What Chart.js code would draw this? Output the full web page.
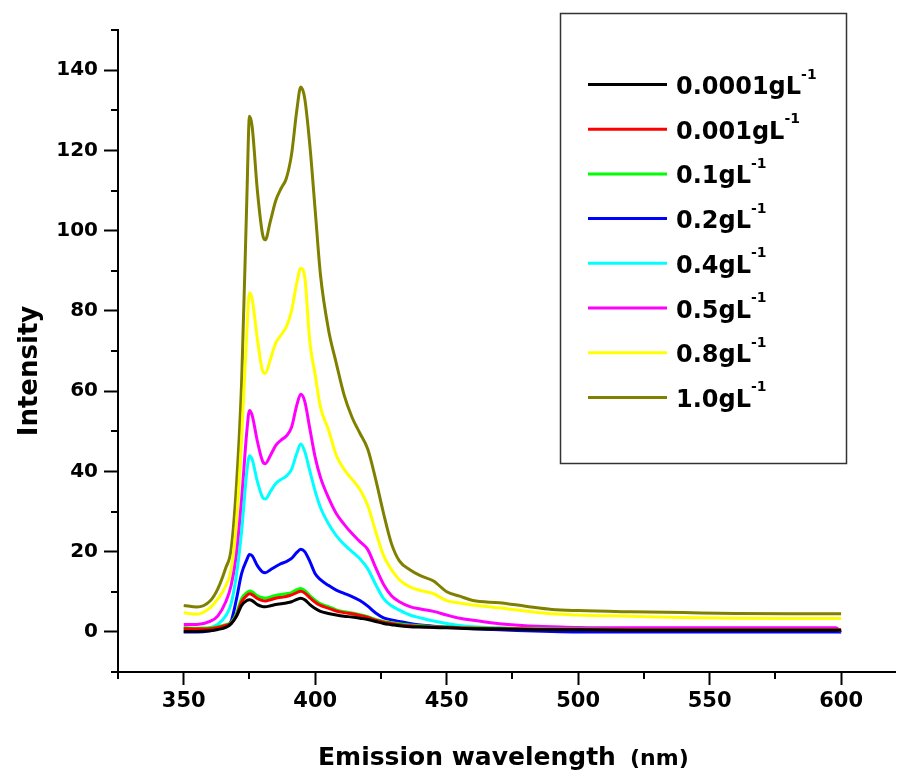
<!DOCTYPE html>
<html>
<head>
<meta charset="utf-8">
<script src="https://cdn.jsdelivr.net/npm/chart.js@4.4.0/dist/chart.umd.min.js"></script>
<style>
    html, body { margin: 0; padding: 0; background: #fff; }
    #wrap { width: 897px; height: 771px; }
</style>
</head>
<body>
<div id="wrap"><canvas id="spektrum" width="897" height="771"></canvas></div>
<script>
// Panjang gelombang (nm), dipakai bersama oleh semua kurva
const wavelength = [350, 355, 360, 363, 366, 368, 370, 372, 374, 375, 376, 378, 380, 381, 383, 385, 387, 389, 391, 393, 394.5, 396, 398, 400, 402, 405, 408, 411, 414, 417, 420, 423, 426, 429, 432, 436, 440, 445, 450, 455, 460, 470, 480, 490, 500, 520, 540, 560, 580, 598, 600];

// Intensitas tiap konsentrasi
const c00001 = [0.1, 0.1, 0.3, 0.6, 1.1, 2, 3.8, 6.6, 7.8, 8, 7.8, 6.8, 6.3, 6.25, 6.5, 6.8, 7, 7.2, 7.5, 8.1, 8.4, 8, 6.8, 5.8, 5.1, 4.6, 4.2, 3.9, 3.7, 3.4, 3.1, 2.6, 2.1, 1.8, 1.5, 1.3, 1.2, 1.1, 1, 0.9, 0.8, 0.7, 0.6, 0.5, 0.5, 0.4, 0.4, 0.4, 0.4, 0.4, 0.4];
const c0001 = [0.8, 0.7, 0.8, 1.1, 1.6, 2.1, 4, 7.5, 9.1, 9.5, 9.3, 8.3, 7.8, 7.7, 8, 8.4, 8.6, 8.8, 9.2, 9.8, 10.1, 9.7, 8.5, 7.4, 6.6, 5.9, 5.2, 4.8, 4.5, 4.1, 3.6, 2.9, 2.4, 2.1, 1.8, 1.5, 1.3, 1.2, 1.1, 1, 0.9, 0.8, 0.7, 0.6, 0.6, 0.5, 0.5, 0.5, 0.5, 0.5, 0.5];
const c01 = [1, 0.9, 1, 1.3, 1.8, 2.3, 4.5, 8.3, 9.8, 10.2, 10, 9, 8.5, 8.4, 8.7, 9.1, 9.3, 9.5, 9.8, 10.5, 10.8, 10.3, 9, 7.9, 7, 6.3, 5.5, 5, 4.7, 4.3, 3.8, 3.1, 2.6, 2.3, 2, 1.7, 1.5, 1.3, 1.2, 1.1, 1, 0.9, 0.8, 0.7, 0.7, 0.6, 0.6, 0.6, 0.6, 0.6, 0.2];
const c02 = [0, 0, 0.3, 0.8, 1.6, 2.6, 8, 14.5, 18, 19.3, 19, 16.5, 14.9, 14.75, 15.5, 16.3, 17, 17.5, 18.3, 19.8, 20.6, 20, 17.5, 14.5, 13, 11.6, 10.4, 9.6, 8.8, 7.8, 6.4, 4.7, 3.5, 3, 2.6, 2.1, 1.7, 1.4, 1.2, 1, 0.8, 0.5, 0.3, 0.1, 0, 0, 0, 0, 0, 0, 0];
const c04 = [1, 0.6, 1, 1.9, 4, 7, 14, 25, 40, 43.9, 43, 37.5, 33.5, 33.1, 35, 37, 38, 38.8, 40.5, 44.5, 46.8, 45, 40, 35, 31, 27, 24, 21.8, 20, 18.2, 15.7, 11.8, 8.3, 6.5, 5.4, 4.2, 3.5, 2.7, 2.1, 1.6, 1.3, 1, 0.8, 0.6, 0.5, 0.4, 0.35, 0.35, 0.35, 0.35, 0.3];
const c05 = [1.85, 1.85, 2.6, 4, 7.5, 11.5, 19, 33, 50, 55.2, 54, 47.5, 42.5, 41.9, 44, 46.5, 47.8, 48.8, 51, 56.5, 59.2, 57.5, 50.5, 43.5, 38.5, 33.5, 29.5, 26.8, 24.5, 22.5, 20.5, 16, 11.8, 9, 7.5, 6.3, 5.7, 5.1, 4.2, 3.4, 2.9, 2, 1.5, 1.3, 1.1, 1, 1, 1, 1, 1, -0.2];
const c08 = [4.75, 4.4, 6, 8.2, 11.5, 15.5, 27, 48, 75, 84.5, 83, 73, 65, 64.4, 68, 72, 74, 76, 80, 87, 90.6, 88.5, 72, 64, 56, 50.5, 44, 40.5, 38, 35.5, 31.5, 25, 19, 15.5, 13, 11.2, 10.3, 9.5, 7.8, 7.2, 6.7, 6, 5.2, 4.5, 4.2, 3.9, 3.6, 3.4, 3.35, 3.35, 3.35];
const c10 = [6.6, 6.2, 7.7, 10.8, 16, 20.5, 36, 62, 108, 128.5, 126, 110, 99, 97.7, 102.5, 107.5, 110.5, 113, 119, 130, 135.8, 133, 121, 105, 89, 75.5, 67, 59, 53.5, 49.5, 45.5, 38, 29.5, 22, 17.7, 15.5, 14, 12.7, 10, 8.9, 7.8, 7.25, 6.4, 5.6, 5.3, 5, 4.8, 4.6, 4.5, 4.5, 4.5];

const concLabels = ['0.0001', '0.001', '0.1', '0.2', '0.4', '0.5', '0.8', '1.0'];
const seriesValues = [c00001, c0001, c01, c02, c04, c05, c08, c10];
const lineColors = ['#000000', '#ff0000', '#00ff00', '#0000ff', '#00ffff', '#ff00ff', '#ffff00', '#808000'];

// Label sumbu
const xTicks = [350, 400, 450, 500, 550, 600];
const xMinor = [325, 375, 425, 475, 525, 575];
const yTicks = [0, 20, 40, 60, 80, 100, 120, 140];
const yMinor = [-10, 10, 30, 50, 70, 90, 110, 130, 150];

const FONT = 'DejaVu Sans';

// Plugin: tick kecil, judul sumbu dan kotak legenda
const hiasanGrafik = {
    id: 'hiasanGrafik',
    afterDraw(chart) {
        const ctx = chart.ctx;
        const area = chart.chartArea;
        const sx = chart.scales.x;
        const sy = chart.scales.y;

        ctx.save();
        ctx.strokeStyle = '#000';
        ctx.lineWidth = 2;
        yMinor.forEach(v => {
            const py = Math.round(sy.getPixelForValue(v));
            ctx.beginPath();
            ctx.moveTo(area.left - 7, py);
            ctx.lineTo(area.left, py);
            ctx.stroke();
        });
        xMinor.forEach(v => {
            const px = Math.round(sx.getPixelForValue(v));
            ctx.beginPath();
            ctx.moveTo(px, area.bottom);
            ctx.lineTo(px, area.bottom + 7);
            ctx.stroke();
        });

        // Judul sumbu X
        ctx.fillStyle = '#000';
        ctx.textBaseline = 'alphabetic';
        ctx.textAlign = 'left';
        ctx.font = 'bold 25px ' + FONT;
        ctx.fillText('Emission wavelength', 318, 765);
        ctx.font = 'bold 22px ' + FONT;
        ctx.fillText('(nm)', 630, 765);

        // Judul sumbu Y
        ctx.save();
        ctx.translate(37, 371);
        ctx.rotate(-Math.PI / 2);
        ctx.textAlign = 'center';
        ctx.font = 'bold 26px ' + FONT;
        ctx.fillText('Intensity', 0, 0);
        ctx.restore();

        // Kotak legenda
        ctx.strokeStyle = '#333';
        ctx.lineWidth = 1.5;
        ctx.strokeRect(560.5, 13.5, 286, 450);
        chart.data.datasets.forEach((ds, i) => {
            const ly = 84.5 + i * 44.7;
            ctx.strokeStyle = ds.borderColor;
            ctx.lineWidth = 3;
            ctx.beginPath();
            ctx.moveTo(588, ly);
            ctx.lineTo(667, ly);
            ctx.stroke();
            const teks = concLabels[i] + 'gL';
            ctx.fillStyle = '#000';
            ctx.font = 'bold 24px ' + FONT;
            ctx.fillText(teks, 676, ly + 9.5);
            const lebar = ctx.measureText(teks).width;
            ctx.font = 'bold 14px ' + FONT;
            ctx.fillText('-1', 676 + lebar, ly - 6);
        });
        ctx.restore();
    }
};

const datasets = seriesValues.map((vals, i) => ({
    label: concLabels[i] + 'gL-1',
    data: wavelength.map((w, j) => ({ x: w, y: vals[j] })),
    borderColor: lineColors[i],
    backgroundColor: lineColors[i],
    borderWidth: 3,
    pointRadius: 0,
    fill: false,
    cubicInterpolationMode: 'monotone'
}));

new Chart(document.getElementById('spektrum').getContext('2d'), {
    type: 'line',
    data: { datasets },
    options: {
        responsive: false,
        animation: false,
        layout: { padding: { left: 0, right: 2, top: 30, bottom: 0 } },
        plugins: {
            legend: { display: false },
            tooltip: { enabled: false }
        },
        scales: {
            x: {
                type: 'linear',
                min: 325,
                max: 620.5,
                afterBuildTicks: (s) => { s.ticks = xTicks.map(v => ({ value: v })); },
                afterFit: (s) => { s.height = 99; },
                border: { display: true, color: '#000', width: 2 },
                grid: { drawOnChartArea: false, tickLength: 13, tickWidth: 2, tickColor: '#000' },
                ticks: { color: '#000', font: { family: FONT, weight: 'bold', size: 21 }, padding: 4, maxRotation: 0, autoSkip: false }
            },
            y: {
                type: 'linear',
                min: -10,
                max: 150,
                afterBuildTicks: (s) => { s.ticks = yTicks.map(v => ({ value: v })); },
                afterFit: (s) => { s.width = 118; },
                border: { display: true, color: '#000', width: 2 },
                grid: { drawOnChartArea: false, tickLength: 14, tickWidth: 2, tickColor: '#000' },
                ticks: { color: '#000', font: { family: FONT, weight: 'bold', size: 20 }, padding: 6, autoSkip: false }
            }
        }
    },
    plugins: [hiasanGrafik]
});
</script>
</body>
</html>
